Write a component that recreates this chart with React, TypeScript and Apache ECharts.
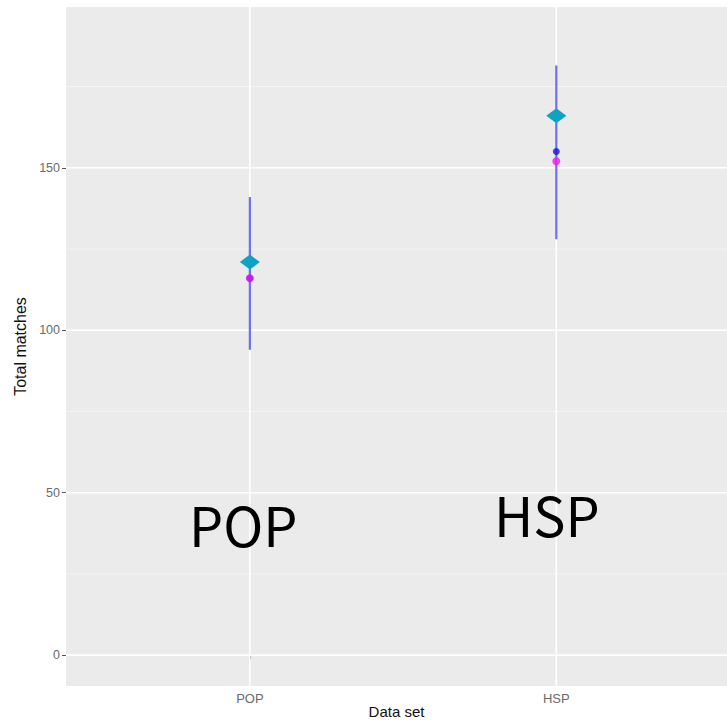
import React, { useEffect, useRef } from "react";
import * as echarts from "echarts";

const categories = ["POP", "HSP"];
const catPositions = [1, 2];
const errLow = [94, 128];
const errHigh = [141, 181.5];
const diamondValues = [121, 166];
const blueValues = [116, 155];
const magentaValues = [116, 152];
const yMajorTicks = [0, 50, 100, 150];
const yMinorTicks = [25, 75, 125, 175];
const overlayLabels = ["POP", "HSP"];

const X_MIN = 0.4;
const X_MAX = 2.557;
const Y_MIN = -9.5;
const Y_MAX = 199.5;

export default function App() {
  const ref = useRef<HTMLDivElement>(null);
  useEffect(() => {
    if (!ref.current) return;
    const chart = echarts.init(ref.current, null, { renderer: "svg" });
    const font = "Liberation Sans";
    // grid line data: [orientation (0 = horizontal, 1 = vertical), value, major flag]
    const gridData: number[][] = [];
    yMinorTicks.forEach((v) => gridData.push([0, v, 0]));
    yMajorTicks.forEach((v) => gridData.push([0, v, 1]));
    catPositions.forEach((v) => gridData.push([1, v, 1]));
    chart.setOption({
      animation: false,
      grid: {
        left: 66,
        right: 0,
        top: 7,
        bottom: 38,
        show: true,
        backgroundColor: "#EBEBEB",
        borderWidth: 0,
        containLabel: false,
        outerBoundsMode: "none",
      },
      xAxis: {
        type: "value",
        min: X_MIN,
        max: X_MAX,
        name: "Data set",
        nameLocation: "middle",
        nameGap: 17,
        nameMoveOverlap: false,
        nameTextStyle: { fontFamily: font, fontSize: 15, lineHeight: 16, color: "#111" },
        axisLine: { show: false },
        splitLine: { show: false },
        axisTick: {
          show: true,
          customValues: catPositions,
          length: 4,
          lineStyle: { color: "#555", width: 1 },
        },
        axisLabel: {
          customValues: catPositions,
          formatter: (v: number) => categories[catPositions.indexOf(v)] ?? "",
          fontFamily: font,
          fontSize: 13,
          color: "#6a6a6a",
          margin: 6,
        },
      },
      yAxis: {
        type: "value",
        min: Y_MIN,
        max: Y_MAX,
        name: "Total matches",
        nameLocation: "middle",
        nameGap: 38,
        nameTextStyle: { fontFamily: font, fontSize: 16, color: "#111" },
        axisLine: { show: false },
        splitLine: { show: false },
        axisTick: {
          show: true,
          customValues: yMajorTicks,
          length: 4,
          lineStyle: { color: "#555", width: 1 },
        },
        axisLabel: {
          customValues: yMajorTicks,
          fontFamily: font,
          fontSize: 12.5,
          color: "#6a6a6a",
          margin: 6,
        },
      },
      series: [
        {
          type: "custom",
          silent: true,
          z: 1,
          clip: true,
          data: gridData,
          renderItem: (params: any, api: any) => {
            const orient = api.value(0);
            const v = api.value(1);
            const major = api.value(2);
            let p1, p2;
            if (orient === 0) {
              p1 = api.coord([X_MIN, v]);
              p2 = api.coord([X_MAX, v]);
            } else {
              p1 = api.coord([v, Y_MIN]);
              p2 = api.coord([v, Y_MAX]);
            }
            return {
              type: "line",
              shape: { x1: p1[0], y1: p1[1], x2: p2[0], y2: p2[1] },
              style: {
                stroke: major ? "#ffffff" : "#f6f6f6",
                lineWidth: major ? 1.6 : 0.8,
              },
            };
          },
        },
        {
          type: "custom",
          z: 3,
          data: catPositions.map((x, i) => [x, errLow[i], errHigh[i]]),
          renderItem: (params: any, api: any) => {
            const p1 = api.coord([api.value(0), api.value(1)]);
            const p2 = api.coord([api.value(0), api.value(2)]);
            return {
              type: "line",
              shape: { x1: p1[0], y1: p1[1], x2: p2[0], y2: p2[1] },
              style: { stroke: "#6e6eee", lineWidth: 2.2 },
            };
          },
        },
        {
          type: "scatter",
          z: 4,
          symbol: "circle",
          symbolSize: 7,
          itemStyle: { color: "#1414e6" },
          data: catPositions.map((x, i) => [x, blueValues[i]]),
        },
        {
          type: "scatter",
          z: 5,
          symbol: "circle",
          symbolSize: 8,
          itemStyle: { color: "#f018ee" },
          data: catPositions.map((x, i) => [x, magentaValues[i]]),
        },
        {
          type: "scatter",
          z: 6,
          symbol: "diamond",
          symbolSize: [20, 15],
          itemStyle: { color: "#0ea3c2", opacity: 1 },
          data: catPositions.map((x, i) => [x, diamondValues[i]]),
        },
      ],
      graphic: [
        {
          type: "text",
          x: 189,
          y: 523,
          z: 10,
          style: {
            text: overlayLabels[0],
            fontFamily: "Noto Sans CJK JP",
            fontSize: 54,
            fill: "#000",
            align: "left",
            verticalAlign: "middle",
          },
        },
        {
          type: "text",
          x: 494,
          y: 513,
          z: 10,
          style: {
            text: overlayLabels[1],
            fontFamily: "Noto Sans CJK JP",
            fontSize: 54,
            fill: "#000",
            align: "left",
            verticalAlign: "middle",
          },
        },
      ],
    });
    return () => chart.dispose();
  }, []);
  return <div ref={ref} style={{ width: 727, height: 724, position: "absolute", left: 0, top: 0 }} />;
}
